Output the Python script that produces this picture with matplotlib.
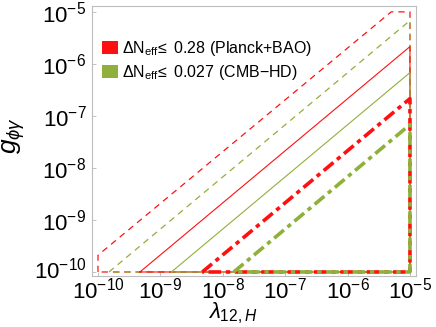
import matplotlib
matplotlib.use("Agg")
import matplotlib.pyplot as plt
import matplotlib.transforms as mtransforms
from matplotlib.patches import Patch
from matplotlib.ticker import FixedLocator

plt.rcParams['font.family'] = ['Liberation Sans', 'DejaVu Sans']
plt.rcParams['mathtext.fontset'] = 'custom'
plt.rcParams['mathtext.rm'] = 'Liberation Sans'
plt.rcParams['mathtext.it'] = 'Liberation Sans:italic'

# boundaries of the excluded regions (closed outlines in the lambda-g plane)
red_dashed_lam = [1e-10, 1e-10, 5.0e-6, 1e-5, 1e-5, 1e-10]
red_dashed_g = [1e-10, 2.1e-10, 1e-5, 1e-5, 1e-10, 1e-10]
green_dashed_lam = [1.5e-10, 1e-5, 1e-5, 1.5e-10]
green_dashed_g = [1e-10, 6.8e-6, 1e-10, 1e-10]
red_solid_lam = [4.7e-10, 1e-5, 1e-5, 4.7e-10]
red_solid_g = [1e-10, 2.15e-6, 1e-10, 1e-10]
green_solid_lam = [1.5e-9, 1e-5, 1e-5, 1.5e-9]
green_solid_g = [1e-10, 6.8e-7, 1e-10, 1e-10]
red_dashdot_lam = [4.7e-9, 1e-5, 1e-5, 4.7e-9]
red_dashdot_g = [1e-10, 2.15e-7, 1e-10, 1e-10]
green_dashdot_lam = [1.5e-8, 1e-5, 1e-5, 1.5e-8]
green_dashdot_g = [1e-10, 6.8e-8, 1e-10, 1e-10]

legend_labels = [r'$\Delta\mathrm{N}_{\mathrm{eff}}\!\leq$ 0.28 (Planck+BAO)',
                 r'$\Delta\mathrm{N}_{\mathrm{eff}}\!\leq$ 0.027 (CMB$-$HD)']
tick_exps = [-10, -9, -8, -7, -6, -5]

RED = '#ff1010'
GREEN = '#8fb03a'

fig = plt.figure(figsize=(4.36, 3.27), dpi=100)
ax = fig.add_axes([0.211, 0.156, 0.743, 0.826])

ax.plot(red_dashed_lam, red_dashed_g, color=RED, lw=0.9, dashes=(5, 4))
ax.plot(green_dashed_lam, green_dashed_g, color=GREEN, lw=0.9, dashes=(5, 4))
ax.plot(red_solid_lam, red_solid_g, color=RED, lw=0.8)
ax.plot(green_solid_lam, green_solid_g, color=GREEN, lw=0.8)
ax.plot(red_dashdot_lam, red_dashdot_g, color=RED, lw=2.6, dashes=(3.5, 1.3, 1.2, 1.3))
ax.plot(green_dashdot_lam, green_dashdot_g, color=GREEN, lw=2.6, dashes=(3.5, 1.3, 1.2, 1.3))

ax.set_xscale('log')
ax.set_yscale('log')
ax.set_xlim(10**-10.096, 10**-4.904)
ax.set_ylim(10**-10.077, 10**-4.885)

ticks = [10.0**e for e in tick_exps]
labels = [r'$10^{%d}$' % e for e in tick_exps]
ax.xaxis.set_major_locator(FixedLocator(ticks))
ax.yaxis.set_major_locator(FixedLocator(ticks))
ax.set_xticklabels(labels)
ax.set_yticklabels(labels)
ax.minorticks_off()
ax.tick_params(direction='in', length=3, width=0.6, color='#b8b8b8',
               labelsize=16, pad=4)
ax.tick_params(axis='x', pad=1)
for s in ax.spines.values():
    s.set_color('#bdbdbd')
    s.set_linewidth(0.8)

# nudge the lowest y label up a little so it clears the first x label
lowest = ax.get_yticklabels()[0]
lowest.set_transform(lowest.get_transform() +
                     mtransforms.ScaledTranslation(0, 3 / 72, fig.dpi_scale_trans))

ax.set_xlabel(r'$\lambda_{12,H}$', fontsize=16)
ax.xaxis.set_label_coords(0.435, -0.092)
ax.set_ylabel(r'$g_{\phi\gamma}$', fontsize=19)
ax.yaxis.set_label_coords(-0.2, 0.52)

handles = [Patch(facecolor=RED, edgecolor='none'), Patch(facecolor=GREEN, edgecolor='none')]
ax.legend(handles, legend_labels, loc='upper left', bbox_to_anchor=(0.01, 0.9),
          frameon=False, fontsize=11.5, handlelength=1.0, handleheight=0.9,
          handletextpad=0.3, labelspacing=0.3, borderaxespad=0)

fig.savefig('out.png', dpi=100)
